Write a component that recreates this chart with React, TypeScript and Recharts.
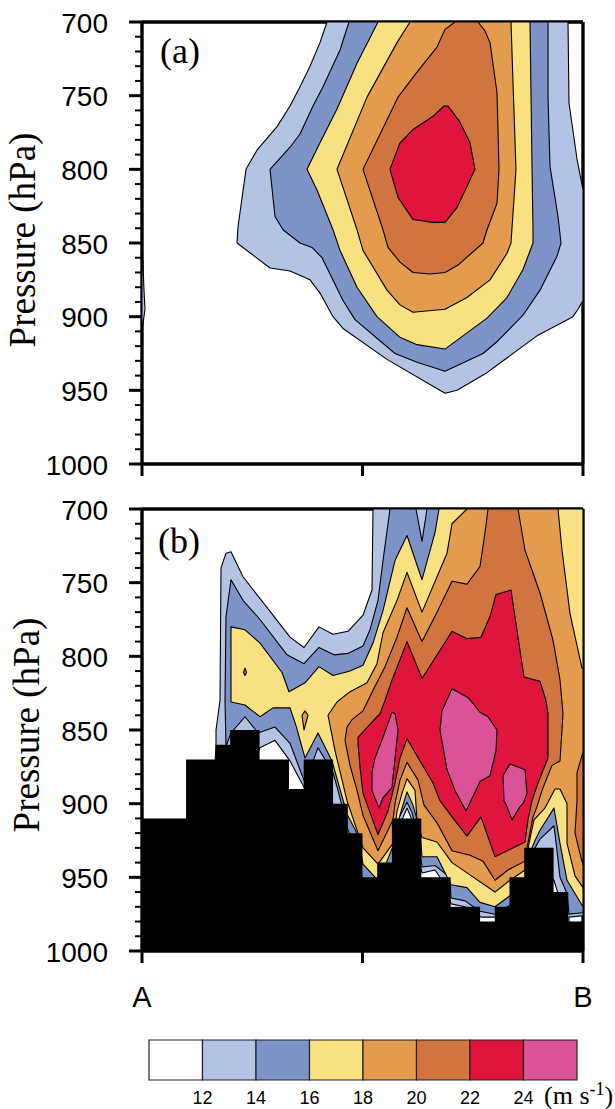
import { Bar, BarChart, Scatter, ScatterChart, XAxis, YAxis } from "recharts";

type Pt = [number, number];

// x is distance along the section A-B (arbitrary units, 0-441), second value is pressure in hPa
const bandColors = ["#ffffff", "#b4c2e4", "#7d93c8", "#f9e080", "#e39b4e", "#d17540", "#e0153e", "#da5397"];
const bandLabels = [12, 14, 16, 18, 20, 22, 24];

const pressureTicks = [700, 710, 720, 730, 740, 750, 760, 770, 780, 790, 800, 810, 820, 830, 840, 850, 860, 870, 880, 890, 900, 910, 920, 930, 940, 950, 960, 970, 980, 990, 1000];
const sectionTicks = [0, 220.5, 441];
const sectionNames = ["A", "", "B"];

// panel (a) contours
const a12: Pt[] = [[185,700],[178,714],[168,730],[158,744],[148,757],[135,771],[115,787],[104,800],[96,839],[95,850],[128,867],[148,869],[168,875],[178,884],[191,900],[201,908],[245,929],[303,952],[315,950],[345,938],[355,933],[395,913],[431,900],[436,895],[441,889],[441,814],[435,793],[427,755],[426,700]];
const a12Left: Pt[] = [[0,848],[2,882],[3,895],[0,910]];
const a14: Pt[] = [[207,700],[198,719],[181,744],[171,757],[158,776],[148,785],[128,800],[133,832],[141,841],[158,850],[170,853],[180,860],[201,889],[213,902],[253,925],[275,931],[303,937],[341,925],[355,917],[381,899],[398,882],[415,859],[419,850],[416,832],[408,798],[406,751],[406,700]];
const a16: Pt[] = [[236,700],[215,728],[195,759],[178,782],[165,800],[175,814],[191,841],[198,855],[215,880],[235,900],[258,914],[275,919],[303,922],[345,901],[365,887],[381,868],[391,850],[391,841],[390,798],[388,700]];
const a18: Pt[] = [[268,700],[255,714],[225,751],[195,800],[215,841],[221,855],[245,882],[258,892],[271,897],[303,895],[325,887],[348,875],[365,857],[369,850],[374,800],[371,741],[369,700]];
const a20: Pt[] = [[313,700],[303,705],[295,717],[275,734],[256,751],[221,800],[241,841],[246,853],[258,863],[271,870],[288,871],[303,870],[316,865],[341,850],[345,841],[355,823],[357,800],[355,748],[348,714],[343,706],[336,700]];
const a22: Pt[] = [[248,800],[256,819],[271,834],[291,836],[303,836],[315,826],[333,800],[328,782],[318,768],[306,757],[302,757],[291,764],[271,773],[258,782]];

// panel (b) contours
const b12: Pt[] = [[231,700],[441,700],[441,976],[427,977],[427,986],[416,961],[412,952],[403,945],[368,979],[354,977],[339,977],[323,970],[309,968],[303,955],[293,945],[280,947],[275,932],[270,911],[265,903],[260,911],[256,932],[221,959],[208,932],[163,890],[148,871],[133,857],[118,862],[113,871],[73,871],[74,862],[74,850],[78,830],[79,740],[84,730],[89,729],[101,746],[131,772],[148,787],[162,794],[177,780],[191,785],[206,783],[221,772],[230,755]];
const b14: Pt[] = [[84,861],[89,852],[103,841],[116,852],[133,848],[148,859],[158,877],[163,886],[176,862],[191,879],[196,891],[206,918],[216,932],[221,955],[236,955],[251,942],[256,911],[265,899],[270,906],[276,922],[280,943],[293,942],[308,950],[309,964],[323,966],[338,973],[353,975],[368,969],[383,952],[393,930],[398,924],[412,915],[415,932],[418,950],[425,961],[427,975],[441,974],[441,700],[285,700],[280,722],[274,700],[248,700],[241,735],[236,762],[228,782],[221,793],[206,798],[192,799],[177,794],[162,805],[145,799],[118,775],[101,762],[89,748],[84,773],[83,830]];
const b16: Pt[] = [[89,780],[89,831],[103,833],[118,841],[131,835],[148,835],[154,847],[163,869],[176,852],[190,871],[205,907],[215,920],[221,941],[236,952],[245,939],[251,929],[255,915],[260,903],[265,892],[271,901],[278,918],[280,936],[295,936],[309,955],[325,957],[338,967],[353,970],[369,962],[383,952],[390,930],[393,925],[398,918],[412,903],[418,927],[425,952],[441,970],[441,700],[297,700],[293,716],[280,748],[265,718],[253,735],[241,769],[231,791],[221,806],[208,810],[191,813],[177,807],[163,818],[147,824],[140,811],[118,791],[103,782]];
const b18: Pt[] = [[325,700],[416,700],[420,728],[428,771],[440,808],[441,808],[441,957],[433,949],[425,927],[425,900],[418,890],[413,890],[403,903],[392,911],[387,927],[383,945],[368,952],[353,960],[325,947],[310,940],[295,926],[280,923],[275,911],[273,891],[265,883],[260,893],[255,905],[251,927],[236,941],[221,930],[215,918],[205,898],[193,864],[186,840],[195,831],[208,824],[225,818],[235,805],[241,784],[255,762],[265,743],[280,770],[305,730],[310,710]];
const b18Island: Pt[] = [[163,837],[166,840],[162,850],[160,840]];
const b18Dot: Pt[] = [[103,808],[104.5,811],[103,813],[101.5,811]];
const b20: Pt[] = [[346,700],[376,700],[383,728],[398,757],[411,789],[418,816],[421,839],[418,871],[410,874],[400,891],[395,902],[391,909],[387,923],[385,930],[383,939],[366,945],[353,952],[341,939],[328,935],[310,932],[295,913],[282,901],[276,884],[265,872],[258,884],[253,900],[251,911],[236,932],[221,908],[215,891],[208,874],[203,857],[205,848],[210,843],[221,837],[231,823],[237,815],[243,807],[255,787],[265,767],[280,790],[295,770],[310,749],[325,751],[338,739],[343,716]];
const b20Right: Pt[] = [[441,865],[435,879],[435,898],[433,920],[441,942]];
const b22: Pt[] = [[253,811],[250,816],[243,830],[238,839],[235,841],[216,855],[216,859],[218,875],[221,893],[236,921],[246,905],[253,886],[258,869],[265,856],[278,871],[291,886],[298,898],[310,909],[325,922],[339,909],[353,936],[383,926],[386,911],[390,898],[396,886],[406,869],[406,839],[404,830],[398,817],[382,814],[369,755],[354,758],[348,773],[339,787],[325,788],[310,783],[280,815],[265,790]];
const b24Main: Pt[] = [[310,822],[326,828],[331,832],[338,838],[346,841],[355,850],[354,864],[348,881],[338,885],[324,905],[313,891],[305,877],[298,850],[300,837]];
const b24Left: Pt[] = [[250,838],[253,839],[256,850],[251,882],[250,889],[241,896],[237,903],[230,891],[230,879],[233,869],[241,855]];
const b24Right: Pt[] = [[368,873],[383,877],[385,893],[381,900],[378,902],[370,911],[365,902],[362,898],[361,881]];

// pressure of the ground in each of the 30 model columns
const terrainTop = [910,910,910,870,870,860,850,850,870,870,890,870,870,900,920,950,940,910,910,950,950,970,970,980,970,950,930,930,960,980];
const columnWidth = 14.7;

const panelAContours: [Pt[], number][] = [[a12, 1],[a12Left, 1],[a14, 2],[a16, 3],[a18, 4],[a20, 5],[a22, 6]];
const panelBContours: [Pt[], number][] = [[b12, 1],[b14, 2],[b16, 3],[b18, 4],[b18Island, 4],[b18Dot, 4],[b20, 5],[b20Right, 5],[b22, 6],[b24Main, 7],[b24Left, 7],[b24Right, 7]];

const SANS = "'Liberation Sans', Arial, sans-serif";
const SERIF = "'Liberation Serif', 'Times New Roman', serif";
const AXIS_LINE = { stroke: "#000", strokeWidth: 3.4 };

const toPoints = (list: Pt[]) => list.map(([x, p]) => ({ x, p }));

const terrainPoints = () => {
  const pts: Pt[] = [];
  terrainTop.forEach((top, k) => {
    pts.push([k * columnWidth, top], [(k + 1) * columnWidth, top]);
  });
  pts.push([441, 1000], [0, 1000]);
  return toPoints(pts);
};

const NoPoint = () => <g />;

function LeftTick({ x, y, payload }: any) {
  const major = payload.value % 50 === 0;
  return (
    <g>
      <line x1={x} x2={x - (major ? 13 : 7)} y1={y} y2={y} stroke="#000" strokeWidth={major ? 3 : 2} />
      {major && (
        <text x={x - 34} y={y + 1} textAnchor="end" dominantBaseline="central" fontFamily={SANS} fontSize={28} fill="#000">
          {payload.value}
        </text>
      )}
    </g>
  );
}

function RightTick({ x, y, payload }: any) {
  const major = payload.value % 50 === 0;
  return <line x1={x} x2={x + (major ? 12 : 6)} y1={y} y2={y} stroke="#000" strokeWidth={major ? 3 : 2} />;
}

const TopTick = ({ x, y }: any) => <line x1={x} x2={x} y1={y} y2={y - 12} stroke="#000" strokeWidth={3} />;

function BottomTick({ x, y, index, named }: any) {
  return (
    <g>
      <line x1={x} x2={x} y1={y} y2={y + 12} stroke="#000" strokeWidth={3} />
      {named && sectionNames[index] && (
        <text x={x} y={y + 56} textAnchor="middle" fontFamily={SANS} fontSize={29} fill="#000">
          {sectionNames[index]}
        </text>
      )}
    </g>
  );
}

function Panel({
  top,
  height,
  bottomAxis,
  contours,
  terrain,
  tag,
  tagX,
  tagY,
  titleX,
  titleY,
}: {
  top: number;
  height: number;
  bottomAxis: number;
  contours: [Pt[], number][];
  terrain?: boolean;
  tag: string;
  tagX: number;
  tagY: number;
  titleX: number;
  titleY: number;
}) {
  return (
    <div style={{ position: "absolute", left: 0, top }}>
      <ScatterChart width={615} height={height} margin={{ top: 0, right: 0, bottom: 0, left: 0 }}>
        {contours.map(([list, band], i) => (
          <Scatter
            key={i}
            data={toPoints(list)}
            shape={NoPoint}
            line={{ fill: bandColors[band], stroke: "#000", strokeWidth: 1.1, strokeLinejoin: "round" }}
            lineJointType="linearClosed"
            isAnimationActive={false}
          />
        ))}
        {terrain && (
          <Scatter
            data={terrainPoints()}
            shape={NoPoint}
            line={{ fill: "#000", stroke: "none" }}
            lineJointType="linearClosed"
            isAnimationActive={false}
          />
        )}
        <XAxis dataKey="x" type="number" domain={[0, 441]} ticks={sectionTicks} interval={0} height={bottomAxis} tickSize={0} tickMargin={0} tickLine={false} axisLine={AXIS_LINE} tick={<BottomTick named={!!terrain} />} />
        <XAxis xAxisId="top" orientation="top" dataKey="x" type="number" domain={[0, 441]} ticks={sectionTicks} interval={0} height={22} tickSize={0} tickMargin={0} tickLine={false} axisLine={AXIS_LINE} tick={<TopTick />} />
        <YAxis dataKey="p" type="number" reversed domain={[700, 1000]} ticks={pressureTicks} interval={0} width={142} tickSize={0} tickMargin={0} tickLine={false} axisLine={AXIS_LINE} tick={<LeftTick />} />
        <YAxis yAxisId="right" orientation="right" dataKey="p" type="number" reversed domain={[700, 1000]} ticks={pressureTicks} interval={0} width={32} tickSize={0} tickMargin={0} tickLine={false} axisLine={AXIS_LINE} tick={<RightTick />} />
        <text x={tagX} y={tagY} fontFamily={SERIF} fontSize={36} fill="#000">
          {tag}
        </text>
        <text
          x={titleX}
          y={titleY}
          transform={`rotate(-90 ${titleX} ${titleY})`}
          textAnchor="middle"
          fontFamily={SERIF}
          fontSize={37}
          fill="#000"
        >
          Pressure (hPa)
        </text>
      </ScatterChart>
    </div>
  );
}

const colorRow = [Object.fromEntries(bandColors.map((_, i) => [`band${i}`, 2]))];
const colorTicks = bandLabels.map((_, i) => (i + 1) * 2);

function ColorTick({ x, y, index }: any) {
  return (
    <text x={x} y={y + 24} textAnchor="middle" fontFamily={SANS} fontSize={18} fill="#000">
      {bandLabels[index]}
    </text>
  );
}

function ColorBar() {
  return (
    <div style={{ position: "absolute", left: 0, top: 1035 }}>
      <BarChart width={615} height={74} layout="vertical" data={colorRow} barCategoryGap={0} margin={{ top: 5, right: 38, bottom: 0, left: 149 }}>
        <YAxis type="category" hide />
        <XAxis type="number" domain={[0, 16]} ticks={colorTicks} interval={0} height={29} tickSize={0} tickMargin={0} tickLine={false} axisLine={false} tick={<ColorTick />} />
        {bandColors.map((color, i) => (
          <Bar key={i} dataKey={`band${i}`} stackId="scale" fill={color} stroke="#222" strokeWidth={1.2} isAnimationActive={false} />
        ))}
        <text x={544} y={69} fontFamily={SERIF} fontSize={26} fill="#000">
          (m s<tspan dy={-9} fontSize={18}>-1</tspan>
          <tspan dy={9}>)</tspan>
        </text>
      </BarChart>
    </div>
  );
}

export default function App() {
  return (
    <div style={{ position: "absolute", left: 0, top: 0, width: 615, height: 1109, background: "#fff", overflow: "hidden" }}>
      <Panel top={0} height={490} bottomAxis={26} contours={panelAContours} tag="(a)" tagX={160} tagY={63} titleX={35} titleY={240} />
      <Panel top={487} height={533} bottomAxis={69} contours={panelBContours} terrain tag="(b)" tagX={158} tagY={66} titleX={39} titleY={238} />
      <ColorBar />
    </div>
  );
}
